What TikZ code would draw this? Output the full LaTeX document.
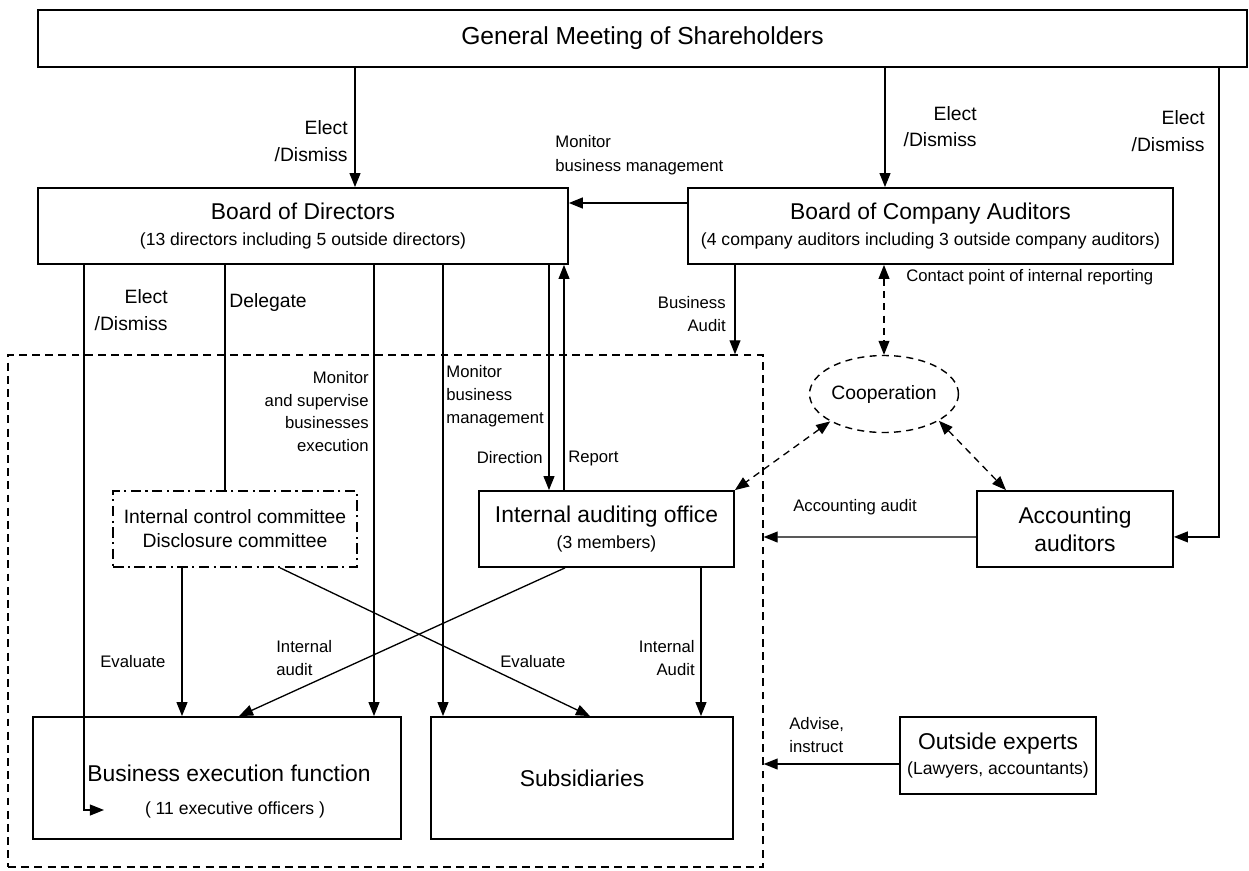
\documentclass[tikz,border=0pt]{standalone}
\usepackage{fontspec}
\setmainfont{Liberation Sans}
\usepackage{tikz}
\usetikzlibrary{arrows.meta, positioning, shapes.geometric, calc}

\begin{document}
\begin{tikzpicture}[
  x=0.02cm, y=-0.02cm,
  font=\fontsize{9.5}{13}\selectfont,
  unit/.style={draw, line width=1pt, align=center, inner sep=2pt,
               font=\fontsize{13}{14.5}\selectfont},
  lbl/.style={inner sep=0pt},
  midtxt/.style={inner sep=0pt, font=\fontsize{11}{15}\selectfont},
  a/.style={-{Triangle[length=8pt,width=6.2pt]}, line width=0.75pt},
  da/.style={{Triangle[length=8pt,width=6.2pt]}-{Triangle[length=8pt,width=6.2pt]},
             line width=0.75pt, dash pattern=on 4pt off 3pt}
]
\useasboundingbox (0,0) rectangle (1249,870);

% boxes
\node[unit, font=\fontsize{14}{16}\selectfont, minimum width=24.18cm, minimum height=1.14cm] (gm) at (642.5,38.5) {General Meeting of Shareholders};
\node[unit, minimum width=10.6cm, minimum height=1.52cm] (bod) at (303,226) {Board of Directors\\{\fontsize{10}{12}\selectfont (13 directors including 5 outside directors)}};
\node[unit, minimum width=9.7cm, minimum height=1.52cm] (bca) at (930.5,226) {Board of Company Auditors\\{\fontsize{10}{12}\selectfont (4 company auditors including 3 outside company auditors)}};
\node[draw, line width=0.8pt, dash pattern=on 4.5pt off 3pt, minimum width=15.1cm, minimum height=10.24cm] (execarea) at (385.5,611) {};
\node[unit, line width=0.9pt, dash pattern=on 6pt off 2.5pt on 1.2pt off 2.5pt, font=\fontsize{11}{13.6}\selectfont, minimum width=4.88cm, minimum height=1.52cm] (icc) at (235,529) {Internal control committee\\Disclosure committee};
\node[unit, minimum width=5.1cm, minimum height=1.52cm] (iao) at (606.5,529) {Internal auditing office\\{\fontsize{10}{13}\selectfont (3 members)}};
\node[unit, font=\fontsize{13}{16}\selectfont, minimum width=3.92cm, minimum height=1.52cm] (acc) at (1075,529) {Accounting\\auditors};
\node[ellipse, draw, line width=0.8pt, dash pattern=on 4pt off 3pt, inner sep=0pt, minimum width=2.42cm, minimum height=1.54cm, font=\fontsize{11}{13}\selectfont] (coop) at (884,394) {Cooperation};
\node[unit, minimum width=7.36cm, minimum height=2.44cm] (bef) at (217,778) {};
\node[lbl, font=\fontsize{13}{15}\selectfont] (beftitle) at (229,773) {Business execution function};
\node[lbl, font=\fontsize{10}{12}\selectfont] (befsub) at (235,810) {( 11 executive officers )};
\node[unit, minimum width=6.04cm, minimum height=2.44cm] (subsid) at (582,778) {Subsidiaries};
\node[unit, minimum width=3.92cm, minimum height=1.54cm] (oe) at (998,755.5) {Outside experts\\{\fontsize{10}{12}\selectfont (Lawyers, accountants)}};
\coordinate (officers) at (104,810);

% connectors
\draw[a] (gm.south -| 355,0) -- (bod.north -| 355,0);
\draw[a] (gm.south -| 885,0) -- (bca.north -| 885,0);
\draw[a] (gm.south -| 1219,0) |- ([yshift=-4.5pt]acc.east);
\draw[a, line width=1pt] (bca.west |- 0,203) -- (bod.east |- 0,203);
\draw[a] (bod.south -| 84,0) |- (officers);
\draw[line width=0.75pt] (bod.south -| 225,0) -- (icc.north -| 225,0);
\foreach \x/\n in {374/bef, 443/subsid, 549/iao}
  \draw[a] (bod.south -| \x,0) -- (\n.north -| \x,0);
\draw[a] (iao.north -| 564,0) -- (bod.south -| 564,0);
\draw[a] (bca.south -| 735,0) -- (execarea.north -| 735,0);
\draw[da] (bca.south -| coop.north) -- (coop.north);
\draw[da] (coop.207) -- (iao.north east);
\draw[da] (coop.-26) -- (acc.north -| 1006,0);
\draw[a] ([yshift=-4.5pt]acc.west) -- (execarea.east |- 0,537);
\draw[a] (icc.south -| 182,0) -- (bef.north -| 182,0);
\draw[a] (icc.south -| 280,0) -- (subsid.north -| 590,0);
\draw[a] (iao.south -| 565,0) -- (bef.north -| 239,0);
\draw[a] (iao.south -| 701,0) -- (subsid.north -| 701,0);
\draw[a] (oe.west |- 0,764) -- (execarea.east |- 0,764);

% labels
\node[midtxt, align=right, anchor=east] (elect1) at (348,141) {Elect\\/Dismiss};
\node[midtxt, align=right, anchor=east] (elect2) at (977,126.5) {Elect\\/Dismiss};
\node[midtxt, align=right, anchor=east] (elect3) at (1205,131) {Elect\\/Dismiss};
\node[lbl, align=left, anchor=west, font=\fontsize{9.5}{14}\selectfont] (monitor1) at (555,155) {Monitor\\business management};
\node[midtxt, align=right, anchor=east] (elect4) at (168,310) {Elect\\/Dismiss};
\node[midtxt, anchor=west] (delegate) at (229,302) {Delegate};
\node[lbl, align=right, anchor=east] (baudit) at (726,314) {Business\\Audit};
\node[lbl, anchor=west] (contact) at (906,277) {Contact point of internal reporting};
\node[lbl, align=right, anchor=east] (monitor2) at (369,411.5) {Monitor\\and supervise\\businesses\\execution};
\node[lbl, align=left, anchor=west] (monitor3) at (446,396.5) {Monitor\\business\\management};
\node[lbl, anchor=east] (direction) at (543,458) {Direction};
\node[lbl, anchor=west] (report) at (568,458) {Report};
\node[lbl, anchor=west] (accaudit) at (793,507) {Accounting audit};
\node[lbl, anchor=west] (eval1) at (100,662) {Evaluate};
\node[lbl, anchor=west] (eval2) at (500,662) {Evaluate};
\node[lbl, align=left, anchor=west] (iaudit1) at (276,658) {Internal\\audit};
\node[lbl, align=right, anchor=east] (iaudit2) at (695,658) {Internal\\Audit};
\node[lbl, align=left, anchor=west] (advise) at (789,735) {Advise,\\instruct};
\end{tikzpicture}
\end{document}
